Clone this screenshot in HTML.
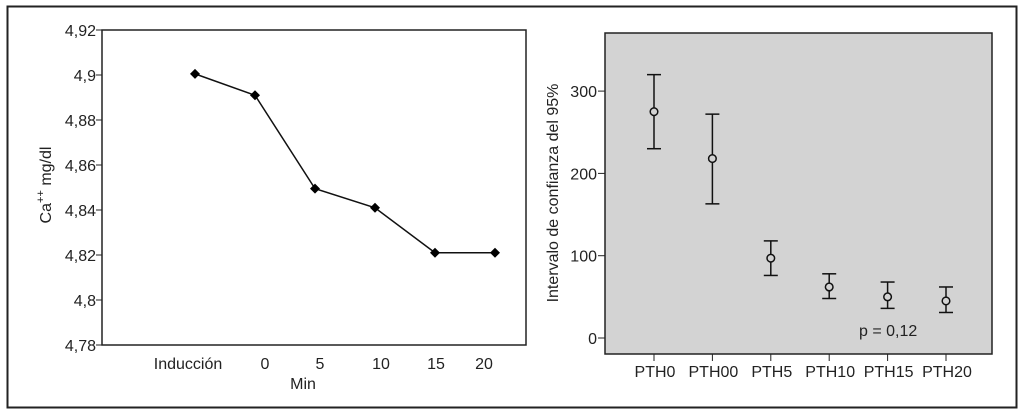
<!DOCTYPE html>
<html><head><meta charset="utf-8"><style>
body{margin:0;background:#fff;}
svg{display:block;font-family:"Liberation Sans",Arial,sans-serif;}
</style></head><body>
<svg width="1024" height="416" viewBox="0 0 1024 416">
<rect x="7.5" y="6.5" width="1009" height="401" fill="#fff" stroke="#222" stroke-width="2"/>
<g id="left"></g>
<g id="right"></g>
</svg>
<script>
const lineCats=["Inducción","0","5","10","15","20"];
const lineVals=[4.9005,4.891,4.8495,4.841,4.821,4.821];
const lineTicks=[4.78,4.8,4.82,4.84,4.86,4.88,4.9,4.92];
const pthCats=["PTH0","PTH00","PTH5","PTH10","PTH15","PTH20"];
const pthMean=[275,218,97,62,50,45];
const pthLow=[230,163,76,48,36,31];
const pthHigh=[320,272,118,78,68,62];
const pthTicks=[0,100,200,300];
const NS="http://www.w3.org/2000/svg";
const FS=16;
function mk(p,t,a,txt){const e=document.createElementNS(NS,t);for(const k in a)e.setAttribute(k,a[k]);if(txt!==undefined)e.textContent=txt;p.appendChild(e);return e;}
// Left chart
const L=document.getElementById('left');
const ly=v=>345-(v-4.78)/0.14*315;
const lx=i=>195+i*60;
mk(L,'rect',{x:102,y:30,width:424,height:315,fill:'#fff',stroke:'#222','stroke-width':1.5});
lineTicks.forEach(t=>{
 const g=mk(L,'g',{});
 
 
 mk(g,'line',{x1:96,x2:102,y1:ly(t),y2:ly(t),stroke:'#222'});
 mk(g,'text',{x:96,y:ly(t)+6,'text-anchor':'end','font-size':FS,fill:'#222'},t.toFixed(2).replace(/0$/,'').replace('.',','));
});
const labX=[188,265,320,381,436,484];
lineCats.forEach((c,i)=>{
 const t=mk(L,'text',{x:labX[i],y:369,'text-anchor':'middle','font-size':FS,fill:'#222'},c);
 
 
});
const xt=mk(L,'text',{x:303,y:389,'text-anchor':'middle','font-size':FS,fill:'#222'},'Min');


const yt=mk(L,'text',{transform:'translate(51,185) rotate(-90)','text-anchor':'middle','font-size':FS,fill:'#222'});


yt.innerHTML='Ca<tspan dy="-7" font-size="11">++</tspan><tspan dy="7"> mg/dl</tspan>';
const pl=mk(L,'polyline',{points:lineVals.map((v,i)=>lx(i)+','+ly(v)).join(' '),fill:'none',stroke:'#111','stroke-width':1.5});


lineVals.forEach((v,i)=>{
 const x=lx(i),y=ly(v);
 const d=mk(L,'polygon',{points:`${x},${y-5} ${x+5},${y} ${x},${y+5} ${x-5},${y}`,fill:'#000'});
 
 
});
// Right chart
const R=document.getElementById('right');
const ry=v=>338-v*0.823;
const rx=i=>654+i*58.4;
mk(R,'rect',{x:605,y:33,width:387,height:321,fill:'#d3d3d3',stroke:'#222','stroke-width':1.5});
pthTicks.forEach(t=>{
 const g=mk(R,'g',{});
 
 
 mk(g,'line',{x1:598,x2:605,y1:ry(t),y2:ry(t),stroke:'#222'});
 mk(g,'text',{x:597,y:ry(t)+6,'text-anchor':'end','font-size':FS,fill:'#222'},t);
});
pthCats.forEach((c,i)=>{
 const g=mk(R,'g',{});
 
 
 mk(g,'line',{x1:rx(i),x2:rx(i),y1:354,y2:361,stroke:'#222'});
 mk(g,'text',{x:rx(i)+1,y:377,'text-anchor':'middle','font-size':FS,fill:'#222'},c);
});
const ryt=mk(R,'text',{transform:'translate(558,193) rotate(-90)','text-anchor':'middle','font-size':FS,fill:'#222'},'Intervalo de confianza del 95%');


pthMean.forEach((m,i)=>{
 const x=rx(i);
 const g=mk(R,'g',{stroke:'#111','stroke-width':1.5,fill:'none'});
 
 
 mk(g,'line',{x1:x,x2:x,y1:ry(pthHigh[i]),y2:ry(pthLow[i])});
 mk(g,'line',{x1:x-7,x2:x+7,y1:ry(pthHigh[i]),y2:ry(pthHigh[i])});
 mk(g,'line',{x1:x-7,x2:x+7,y1:ry(pthLow[i]),y2:ry(pthLow[i])});
 mk(g,'circle',{cx:x,cy:ry(m),r:3.8,fill:'#d3d3d3'});
});
const pv=mk(R,'text',{x:859,y:336,'font-size':FS,fill:'#222'},'p = 0,12');


</script>
</body></html>
